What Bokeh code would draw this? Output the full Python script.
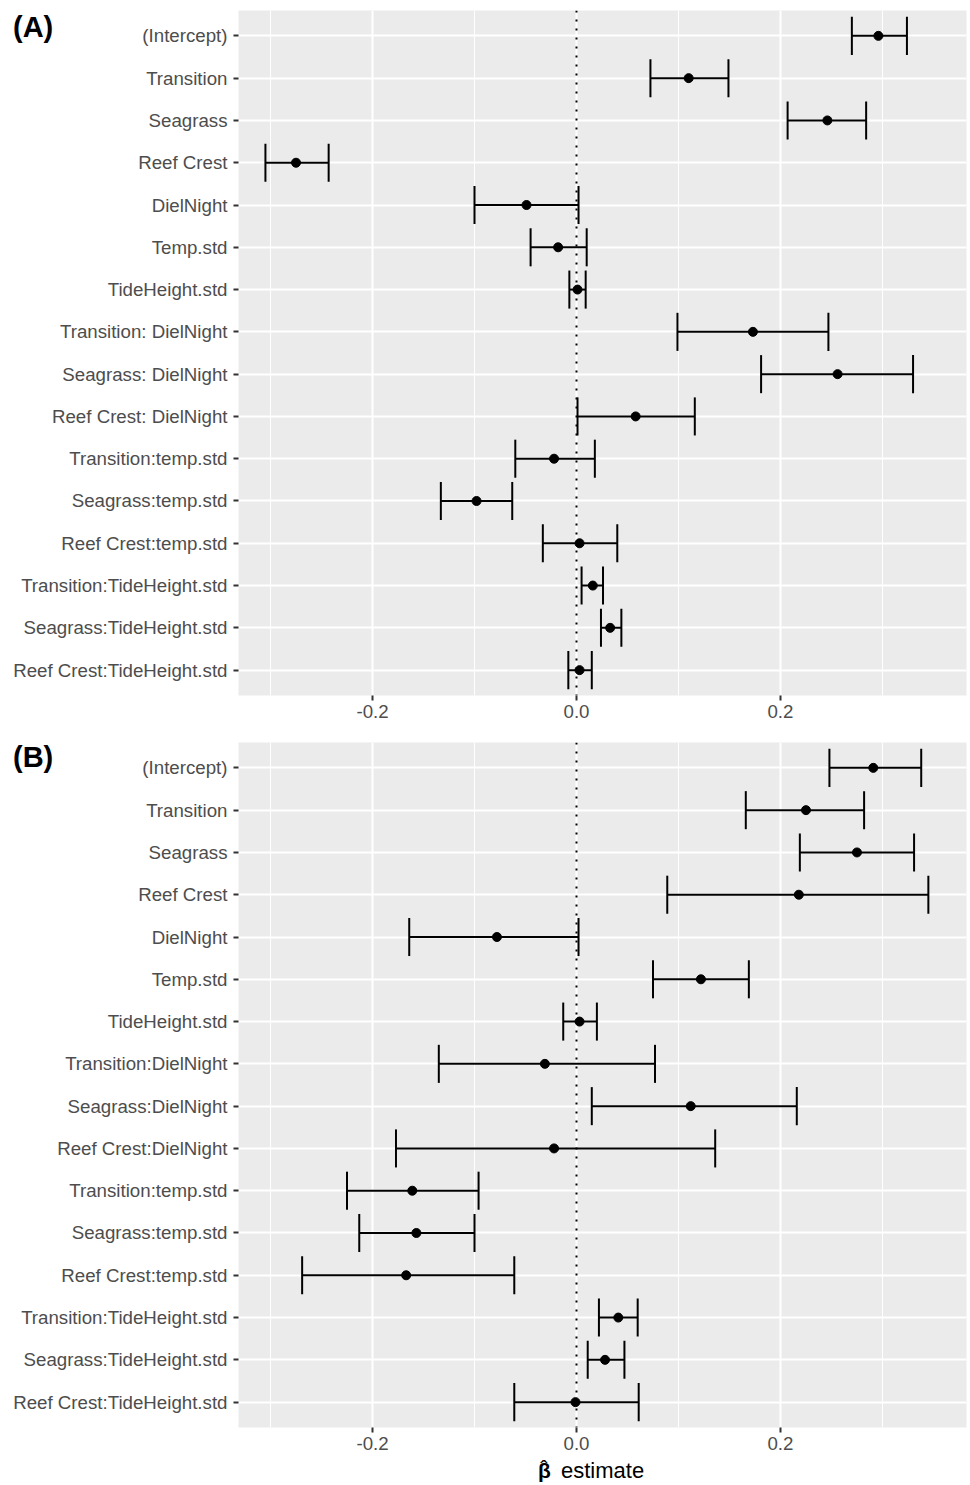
from bokeh.plotting import figure
from bokeh.models import (FactorRange, Range1d, FixedTicker, Span, ColumnDataSource, GridBox, Div)
from bokeh.embed import file_html
from bokeh.resources import INLINE

terms_a = ["(Intercept)", "Transition", "Seagrass", "Reef Crest", "DielNight", "Temp.std",
           "TideHeight.std", "Transition: DielNight", "Seagrass: DielNight", "Reef Crest: DielNight",
           "Transition:temp.std", "Seagrass:temp.std", "Reef Crest:temp.std",
           "Transition:TideHeight.std", "Seagrass:TideHeight.std", "Reef Crest:TideHeight.std"]
est_a = [0.296, 0.110, 0.246, -0.275, -0.049, -0.018, 0.001, 0.173, 0.256, 0.058,
         -0.022, -0.098, 0.003, 0.016, 0.033, 0.003]
lo_a = [0.270, 0.0725, 0.207, -0.305, -0.100, -0.045, -0.007, 0.099, 0.181, 0.001,
        -0.060, -0.133, -0.033, 0.005, 0.024, -0.008]
hi_a = [0.324, 0.149, 0.284, -0.243, 0.002, 0.010, 0.009, 0.247, 0.330, 0.116,
        0.018, -0.063, 0.040, 0.026, 0.044, 0.015]

terms_b = ["(Intercept)", "Transition", "Seagrass", "Reef Crest", "DielNight", "Temp.std",
           "TideHeight.std", "Transition:DielNight", "Seagrass:DielNight", "Reef Crest:DielNight",
           "Transition:temp.std", "Seagrass:temp.std", "Reef Crest:temp.std",
           "Transition:TideHeight.std", "Seagrass:TideHeight.std", "Reef Crest:TideHeight.std"]
est_b = [0.291, 0.225, 0.275, 0.218, -0.078, 0.122, 0.003, -0.031, 0.112, -0.022,
         -0.161, -0.157, -0.167, 0.041, 0.028, -0.001]
lo_b = [0.248, 0.166, 0.219, 0.089, -0.164, 0.075, -0.013, -0.135, 0.015, -0.177,
        -0.225, -0.213, -0.269, 0.022, 0.011, -0.061]
hi_b = [0.338, 0.282, 0.331, 0.345, 0.002, 0.169, 0.020, 0.077, 0.216, 0.136,
        -0.096, -0.100, -0.061, 0.060, 0.047, 0.061]

x_ticks = [-0.2, 0.0, 0.2]
x_minor = [-0.3, -0.1, 0.1, 0.3]
x_tick_labels = {-0.2: "-0.2", 0.0: "0.0", 0.2: "0.2"}
panel_tags = ["(A)", "(B)"]
x_title_symbol = "\u03b2"
x_title_text = "estimate"

FONT = "Liberation Sans"
CAP = 0.45


def make_panel(terms, est, lo, hi, top_border, bottom_border):
    p = figure(
        y_range=FactorRange(factors=list(reversed(terms)), range_padding=0.1,
                            range_padding_units="absolute"),
        x_range=Range1d(-0.3314, 0.3824),
        frame_width=728, frame_height=685,
        min_border_left=238, min_border_right=4,
        min_border_top=top_border, min_border_bottom=bottom_border,
        output_backend="svg", toolbar_location=None,
    )
    p.background_fill_color = "#EBEBEB"
    p.border_fill_color = "white"
    p.outline_line_color = None

    p.xaxis.ticker = FixedTicker(ticks=x_ticks, minor_ticks=x_minor)
    p.xaxis.major_label_overrides = x_tick_labels
    p.xgrid.grid_line_color = "white"
    p.xgrid.grid_line_width = 2
    p.xgrid.minor_grid_line_color = "white"
    p.xgrid.minor_grid_line_width = 1
    p.ygrid.grid_line_color = "white"
    p.ygrid.grid_line_width = 2

    for ax in (p.xaxis, p.yaxis):
        ax.axis_line_color = None
        ax.major_tick_line_color = "#333333"
        ax.major_tick_line_width = 2
        ax.major_tick_out = 5
        ax.major_tick_in = 0
        ax.minor_tick_line_color = None
        ax.major_label_text_font = FONT
        ax.major_label_text_font_size = "18.7px"
        ax.major_label_text_color = "#4D4D4D"
    p.yaxis.major_label_standoff = 6
    p.xaxis.major_label_standoff = 4

    p.add_layout(Span(location=0, dimension="height", line_color="black",
                      line_width=2, line_dash="2 7", level="underlay"))

    src = ColumnDataSource(dict(
        term=terms, est=est, lo=lo, hi=hi,
        ylo=[(t, -CAP) for t in terms], yhi=[(t, CAP) for t in terms],
    ))
    p.segment(x0="lo", y0="term", x1="hi", y1="term", source=src,
              line_color="black", line_width=2)
    p.segment(x0="lo", y0="ylo", x1="lo", y1="yhi", source=src,
              line_color="black", line_width=2)
    p.segment(x0="hi", y0="ylo", x1="hi", y1="yhi", source=src,
              line_color="black", line_width=2)
    p.scatter(x="est", y="term", source=src, size=9, color="black")
    return p


pa = make_panel(terms_a, est_a, lo_a, hi_a, 10, 35)
pb = make_panel(terms_b, est_b, lo_b, hi_b, 12, 58)

# transparent text overlay: panel tags and the x-axis title (beta-hat estimate)
svg = (
    '<svg xmlns="http://www.w3.org/2000/svg" width="970" height="1485" '
    'style="position:absolute;left:0;top:0;pointer-events:none">'
    f'<text x="13" y="37" font-family="{FONT}" font-size="29" font-weight="bold" fill="black">{panel_tags[0]}</text>'
    f'<text x="13" y="767" font-family="{FONT}" font-size="29" font-weight="bold" fill="black">{panel_tags[1]}</text>'
    f'<text font-family="{FONT}" font-size="22" fill="black">'
    f'<tspan x="538" y="1478" font-size="21" font-weight="bold">{x_title_symbol}</tspan>'
    f'<tspan x="540.3" y="1476">\u02c6</tspan>'
    f'<tspan x="561" y="1478">{x_title_text}</tspan>'
    '</text>'
    '</svg>'
)
ov = Div(text=svg, width=970, height=1485, margin=0,
         styles={"position": "relative", "pointer-events": "none"})

layout = GridBox(children=[(pa, 0, 0), (pb, 1, 0), (ov, 0, 0, 2, 1)], spacing=0)
open("out.html", "w").write(file_html(layout, INLINE))
